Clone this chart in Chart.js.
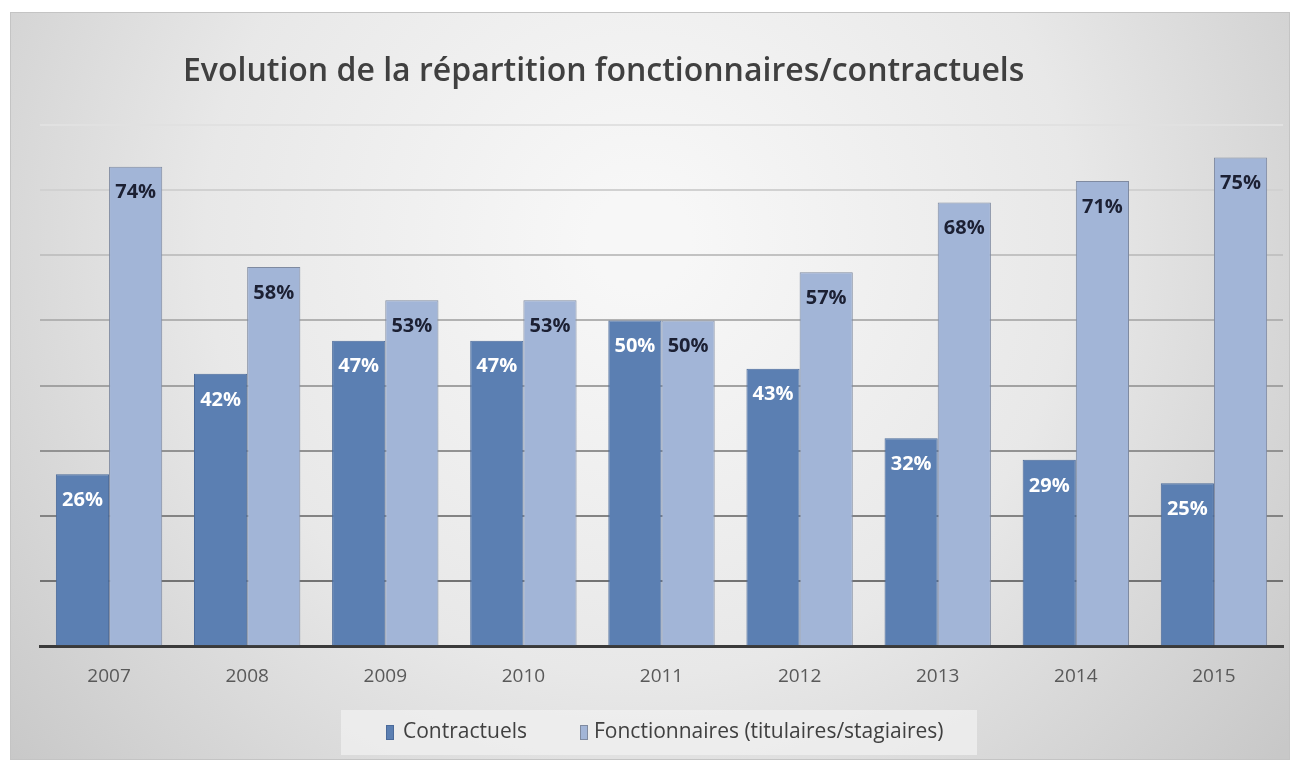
<!DOCTYPE html>
<html>
<head>
<meta charset="utf-8">
<script src="https://cdn.jsdelivr.net/npm/chart.js@4/dist/chart.umd.min.js"></script>
<style>
  html, body { margin: 0; padding: 0; background: #fff; }
  #wrap { width: 1298px; height: 762px; }
</style>
</head>
<body>
<div id="wrap"><canvas id="myChart" width="1298" height="762"></canvas></div>
<script>
// Data

var years = ["2007", "2008", "2009", "2010", "2011", "2012", "2013", "2014", "2015"];
var contractuels = [26.4, 41.8, 46.9, 46.9, 50, 42.6, 31.9, 28.6, 25];
var fonctionnaires = [73.6, 58.2, 53.1, 53.1, 50, 57.4, 68.1, 71.4, 75];
var seriesNames = ["Contractuels", "Fonctionnaires (titulaires/stagiaires)"];
var titleText = "Evolution de la répartition fonctionnaires/contractuels";

var darkBlue = '#5b7fb2';
var lightBlue = '#a2b5d7';

// Background, title, legend, labels

var decor = {
    id: 'decor',
    beforeDraw: function (chart) {
        var c = chart.ctx;
        c.save();
        c.fillStyle = '#ffffff';
        c.fillRect(0, 0, chart.width, chart.height);
        var g = c.createRadialGradient(640, 240, 50, 640, 240, 820);
        g.addColorStop(0, '#f7f7f7');
        g.addColorStop(0.5, '#e8e8e8');
        g.addColorStop(1, '#c8c8c8');
        c.fillStyle = g;
        c.fillRect(10, 12, 1280, 748);
        c.strokeStyle = '#c4c4c4';
        c.lineWidth = 1;
        c.strokeRect(10.5, 12.5, 1279, 747);

        // title
        c.fillStyle = '#404040';
        c.font = '600 32px "Open Sans"';
        c.textBaseline = 'middle';
        c.textAlign = 'left';
        c.fillText(titleText, 183, 72);

        // legend
        c.fillStyle = 'rgba(240,240,240,0.75)';
        c.fillRect(341, 710, 636, 45);
        c.font = '21px "Open Sans"';
        c.fillStyle = darkBlue;
        c.fillRect(386, 725, 8, 15);
        c.strokeStyle = '#4a6a9a';
        c.strokeRect(386.5, 725.5, 7, 14);
        c.fillStyle = '#404040';
        c.fillText(seriesNames[0], 403, 732);
        c.fillStyle = lightBlue;
        c.fillRect(580, 725, 8, 15);
        c.strokeStyle = '#7f8aa0';
        c.strokeRect(580.5, 725.5, 7, 14);
        c.fillStyle = '#404040';
        c.fillText(seriesNames[1], 594, 732);
        c.restore();
    },
    afterDatasetsDraw: function (chart) {
        var c = chart.ctx;
        c.save();
        c.font = 'bold 20px "Open Sans"';
        c.textAlign = 'center';
        c.textBaseline = 'middle';
        chart.data.datasets.forEach(function (ds, i) {
            var meta = chart.getDatasetMeta(i);
            meta.data.forEach(function (bar, j) {
                c.fillStyle = i === 0 ? '#ffffff' : '#1c2033';
                c.fillText(Math.round(ds.data[j]) + '%', bar.x, bar.y + 26);
            });
        });
        c.restore();
    }
};

// Chart

var ctx = document.getElementById('myChart').getContext('2d');
var chart = new Chart(ctx, {
    type: 'bar',
    data: {
        labels: years,
        datasets: [{
                label: seriesNames[0],
                backgroundColor: darkBlue,
                borderColor: '#4a6a9a',
                borderWidth: 1,
                data: contractuels,
            },
            {
                label: seriesNames[1],
                backgroundColor: lightBlue,
                borderColor: '#7f8aa0',
                borderWidth: 1,
                data: fonctionnaires,
            }
        ]
    },
    options: {
        responsive: false,
        animation: false,
        events: [],
        layout: { padding: { left: 40, right: 15, top: 125, bottom: 63 } },
        datasets: { bar: { categoryPercentage: 0.77, barPercentage: 1 } },
        plugins: {
            legend: { display: false },
            title: { display: false },
            tooltip: { enabled: false }
        },
        scales: {
            x: {
                grid: { display: false },
                border: { display: true, color: '#3a3a3a', width: 3 },
                ticks: {
                    color: '#595959',
                    font: { family: 'Open Sans', size: 19 },
                    padding: 11
                }
            },
            y: {
                min: 0,
                max: 80,
                ticks: { display: false, stepSize: 10 },
                border: { display: false },
                grid: {
                    drawTicks: false,
                    lineWidth: 2,
                    color: function (c) {
                        var v = c.tick ? c.tick.value : 0;
                        if (v === 0) return 'rgba(0,0,0,0)';
                        var t = (v - 10) / 70;
                        var k = Math.round(115 + t * (225 - 115));
                        return 'rgb(' + k + ',' + k + ',' + k + ')';
                    }
                }
            }
        }
    },
    plugins: [decor]
});
</script>
</body>
</html>
